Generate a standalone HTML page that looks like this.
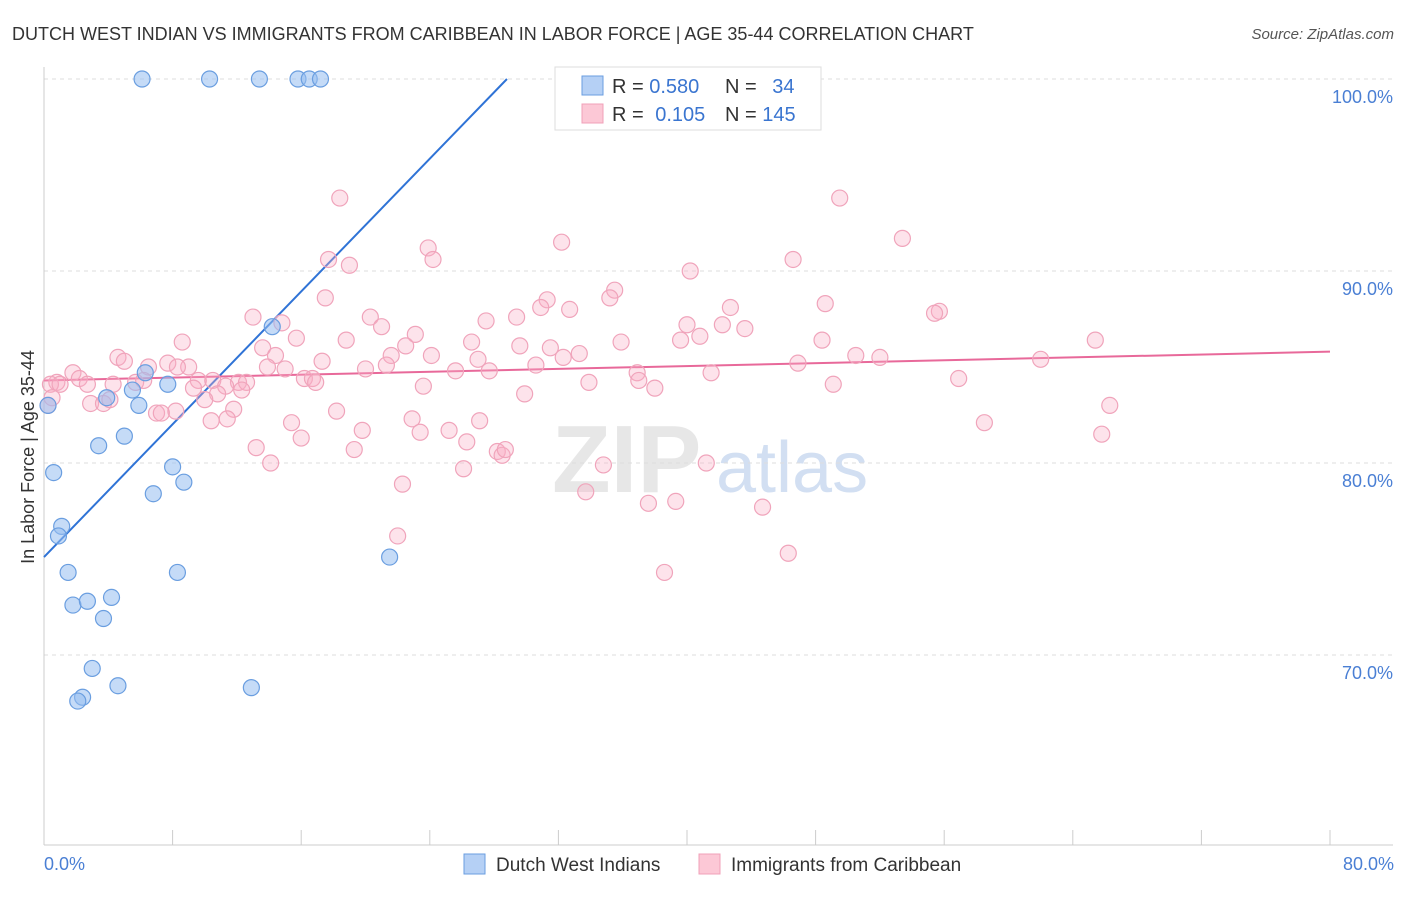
<!DOCTYPE html>
<html><head><meta charset="utf-8"><style>
body{margin:0;background:#fff;font-family:"Liberation Sans",sans-serif;}
svg text{font-family:"Liberation Sans",sans-serif;}
</style></head><body>
<svg id="chart" width="1406" height="892" viewBox="0 0 1406 892">
<text x="12" y="40" font-size="18" fill="#333">DUTCH WEST INDIAN VS IMMIGRANTS FROM CARIBBEAN IN LABOR FORCE | AGE 35-44 CORRELATION CHART</text>
<text x="1394" y="39" font-size="15" fill="#555" font-style="italic" text-anchor="end">Source: ZipAtlas.com</text>
<g><text x="552" y="492" font-size="96" font-family="Liberation Serif" fill="#ddd" font-weight="bold" opacity="0.7">ZIP</text><text x="716" y="492" font-size="72" fill="#c8d8ef" opacity="0.8">atlas</text></g>
<g id="grid"></g><g id="axes"></g><g id="lines"></g><g id="pts"></g>
<text transform="translate(34,457) rotate(-90)" font-size="18" fill="#333" text-anchor="middle">In Labor Force | Age 35-44</text>
<text x="44" y="870" font-size="18" fill="#4a7fd4">0.0%</text>
<text x="1394" y="870" font-size="18" fill="#4a7fd4" text-anchor="end">80.0%</text>
<g>
<rect x="555" y="67" width="266" height="63" fill="#fff" stroke="#ddd"/>
<rect x="582" y="76" width="21" height="19" fill="#b5d0f5" stroke="#6a9ee0"/>
<rect x="582" y="104" width="21" height="19" fill="#fcc8d6" stroke="#f0a0b8"/>
<text x="612" y="93" font-size="20" fill="#333">R = <tspan fill="#3a75d0">0.580</tspan></text>
<text x="725" y="93" font-size="20" fill="#333">N = <tspan fill="#3a75d0" dx="10">34</tspan></text>
<text x="612" y="121" font-size="20" fill="#333">R = <tspan fill="#3a75d0" dx="6">0.105</tspan></text>
<text x="725" y="121" font-size="20" fill="#333">N = <tspan fill="#3a75d0">145</tspan></text>
</g>
<g><rect x="464" y="854" width="21" height="20" fill="#b5d0f5" stroke="#6a9ee0"/><text x="496" y="871" font-size="19" fill="#333">Dutch West Indians</text></g>
<g><rect x="699" y="854" width="21" height="20" fill="#fcc8d6" stroke="#f0a0b8"/><text x="731" y="871" font-size="19" fill="#333">Immigrants from Caribbean</text></g>
</svg>
<script>
const yTicks=[100,90,80,70];
const yTickLabels=["100.0%","90.0%","80.0%","70.0%"];
const xTicks=[0,8,16,24,32,40,48,56,64,72,80];
const blueX=[6.1,10.3,13.4,15.8,16.5,17.2,34.6,14.2,6.3,7.7,5.5,3.9,5.9,0.25,5.0,3.4,0.6,8.0,8.7,6.8,1.1,0.9,1.5,8.3,21.5,1.8,2.7,4.2,3.7,3.0,4.6,12.9,2.4,2.1];
const blueY=[100,100,100,100,100,100,100,87.1,84.7,84.1,83.8,83.4,83.0,83.0,81.4,80.9,79.5,79.8,79.0,78.4,76.7,76.2,74.3,74.3,75.1,72.6,72.8,73.0,71.9,69.3,68.4,68.3,67.8,67.6];
const pinkX=[18.4,49.5,53.4,32.2,23.9,24.2,17.7,19.0,46.6,40.2,35.5,35.2,17.5,31.3,30.9,32.7,42.7,48.6,13.0,14.8,20.3,27.5,29.4,21.0,55.7,55.4,40.0,42.2,43.6,23.1,15.7,18.8,8.6,13.6,22.5,26.6,31.5,29.6,35.9,39.6,40.8,48.4,65.4,4.6,5.0,14.4,21.6,24.1,27.0,32.3,33.3,50.5,52.0,62.0,17.3,7.7,9.0,6.5,8.3,13.9,15.0,20.0,21.3,25.6,27.7,30.6,36.9,41.5,46.9,1.8,0.8,2.2,2.7,0.4,1.0,4.3,5.7,6.2,9.6,10.5,12.1,12.6,16.2,16.7,16.9,11.3,12.3,9.3,10.8,10.0,23.6,33.9,37.0,38.0,49.1,56.9,29.9,2.9,3.7,4.1,0.5,0.25,8.2,7.0,7.3,11.8,18.2,10.4,11.4,15.4,22.9,25.2,23.4,27.1,58.5,66.3,65.8,16.0,26.3,19.8,19.3,28.2,28.5,28.7,13.2,14.1,26.1,34.8,41.2,22.3,33.7,37.6,39.3,44.7,22.0,46.3,38.6];
const pinkY=[93.8,93.8,91.7,91.5,91.2,90.6,90.6,90.3,90.6,90.0,89.0,88.6,88.6,88.5,88.1,88.0,88.1,88.3,87.6,87.3,87.6,87.4,87.6,87.1,87.9,87.8,87.2,87.2,87.0,86.7,86.5,86.4,86.3,86.0,86.1,86.3,86.0,86.1,86.3,86.4,86.6,86.4,86.4,85.5,85.3,85.6,85.6,85.6,85.4,85.5,85.7,85.6,85.5,85.4,85.3,85.2,85.0,85.0,85.0,85.0,84.9,84.9,85.1,84.8,84.8,85.1,84.7,84.7,85.2,84.7,84.2,84.4,84.1,84.1,84.1,84.1,84.2,84.3,84.3,84.3,84.2,84.2,84.4,84.4,84.2,84.0,83.8,83.9,83.6,83.3,84.0,84.2,84.3,83.9,84.1,84.4,83.6,83.1,83.1,83.3,83.4,83.0,82.7,82.6,82.6,82.8,82.7,82.2,82.3,82.1,82.3,81.7,81.6,82.2,82.1,83.0,81.5,81.3,81.1,81.7,80.7,80.6,80.4,80.7,80.8,80.0,79.7,79.9,80.0,78.9,78.5,77.9,78.0,77.7,76.2,75.3,74.3];
const blueLine=[[0,75.1],[28.8,100]];
const pinkLine=[[0,84.3],[80,85.8]];
const NS="http://www.w3.org/2000/svg";
const sx=v=>44+v/80*1286, sy=v=>79+(100-v)*19.2;
function mk(t,a,p){const e=document.createElementNS(NS,t);for(const k in a)e.setAttribute(k,a[k]);p.appendChild(e);return e;}
const grid=document.getElementById('grid'),axes=document.getElementById('axes'),lines=document.getElementById('lines'),pts=document.getElementById('pts');
yTicks.forEach((v,i)=>{
 const l=mk('line',{x1:44,x2:1393,y1:sy(v),y2:sy(v),stroke:'#ddd','stroke-dasharray':'4,4'},grid);
 
 
 const t=mk('text',{x:1393,y:sy(v)+24,'font-size':18,fill:'#4a7fd4','text-anchor':'end'},grid);
 t.textContent=yTickLabels[i];
 
 
});
const ya=mk('line',{x1:44,x2:44,y1:67,y2:845,stroke:'#ccc'},axes);


const xa=mk('line',{x1:44,x2:1393,y1:845,y2:845,stroke:'#ccc'},axes);


xTicks.forEach(v=>{
 const t=mk('line',{x1:sx(v),x2:sx(v),y1:830,y2:845,stroke:'#ccc'},axes);
 
 
});
pinkX.forEach((x,i)=>{
 const c=mk('circle',{cx:sx(x),cy:sy(pinkY[i]),r:8,fill:'rgba(248,175,198,0.35)',stroke:'#f0a4bb','stroke-width':1.2},pts);
 
 
});
blueX.forEach((x,i)=>{
 const c=mk('circle',{cx:sx(x),cy:sy(blueY[i]),r:8,fill:'rgba(150,190,240,0.55)',stroke:'#6a9ee0','stroke-width':1.2},pts);
 
 
});
const bl=mk('line',{x1:sx(blueLine[0][0]),y1:sy(blueLine[0][1]),x2:sx(blueLine[1][0]),y2:sy(blueLine[1][1]),stroke:'#2f73d6','stroke-width':2},lines);


const pl=mk('line',{x1:sx(pinkLine[0][0]),y1:sy(pinkLine[0][1]),x2:sx(pinkLine[1][0]),y2:sy(pinkLine[1][1]),stroke:'#e8699a','stroke-width':2},lines);


</script>
</body></html>
